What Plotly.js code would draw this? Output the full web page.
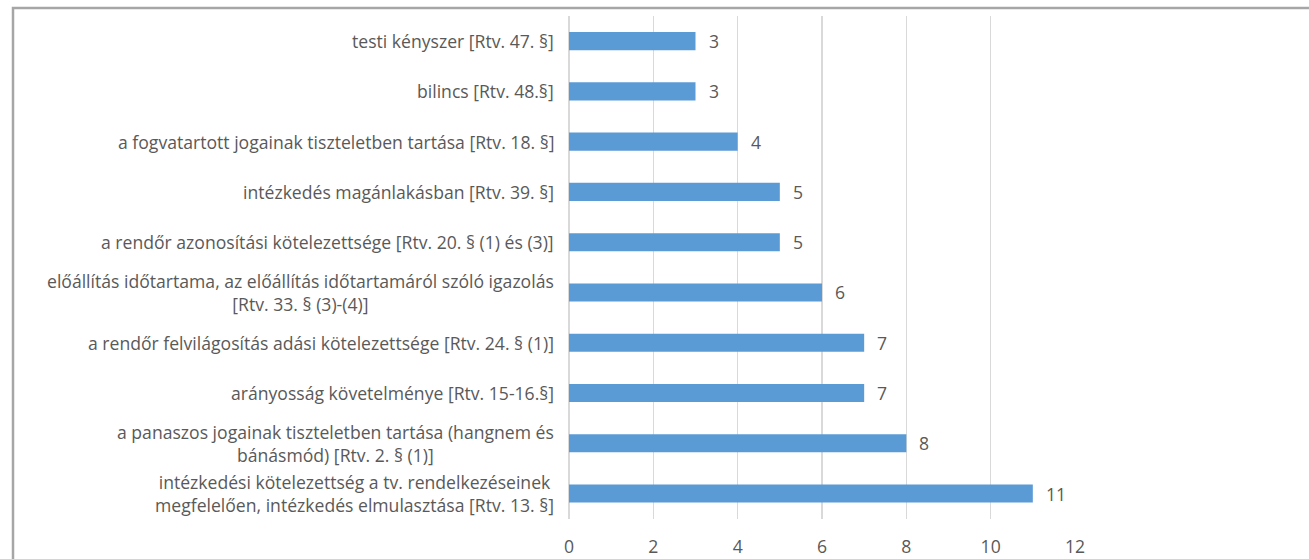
<!DOCTYPE html>
<html><head><meta charset="utf-8">
<script src="https://cdn.plot.ly/plotly-3.0.1.min.js"></script>
<style>html,body{margin:0;padding:0;background:#fff;}#chart{width:1309px;height:559px;}</style>
</head><body><div id="chart"></div>
<script>
const categories = [
  "testi kényszer [Rtv. 47. §]",
  "bilincs [Rtv. 48.§]",
  "a fogvatartott jogainak tiszteletben tartása [Rtv. 18. §]",
  "intézkedés magánlakásban [Rtv. 39. §]",
  "a rendőr azonosítási kötelezettsége [Rtv. 20. § (1) és (3)]",
  "előállítás időtartama, az előállítás időtartamáról szóló igazolás<br>[Rtv. 33. § (3)-(4)]",
  "a rendőr felvilágosítás adási kötelezettsége [Rtv. 24. § (1)]",
  "arányosság követelménye [Rtv. 15-16.§]",
  "a panaszos jogainak tiszteletben tartása (hangnem és<br>bánásmód) [Rtv. 2. § (1)]",
  "intézkedési kötelezettség a tv. rendelkezéseinek<br>megfelelően, intézkedés elmulasztása [Rtv. 13. §]"
];
const values = [3, 3, 4, 5, 5, 6, 7, 7, 8, 11];
const xTicks = [0, 2, 4, 6, 8, 10, 12];

const FONT = "'Open Sans', sans-serif";
const FS = 17.6;
const TXT = "#595959";
const W = 1309, H = 559, ML = 569, MR = 234, MT = 16, MB = 40;
const PW = W - ML - MR, PH = H - MT - MB;

const annotations = [];
categories.forEach((c, i) => {
  annotations.push({
    x: 0, xref: 'paper', xanchor: 'right', xshift: -13,
    y: c, yref: 'y', yanchor: 'middle',
    text: c, showarrow: false, align: 'center',
    font: {family: FONT, size: FS, color: TXT}
  });
  annotations.push({
    x: values[i], xref: 'x', xanchor: 'left', xshift: 11,
    y: c, yref: 'y', yanchor: 'middle',
    text: String(values[i]), showarrow: false,
    font: {family: FONT, size: FS, color: TXT}
  });
});

const data = [{
  type: 'bar', orientation: 'h',
  x: values, y: categories,
  width: 0.36,
  marker: {color: '#5B9BD5'},
  hoverinfo: 'none'
}];

const layout = {
  width: W, height: H,
  margin: {l: ML, r: MR, t: MT, b: MB, pad: 0},
  paper_bgcolor: '#fff', plot_bgcolor: '#fff',
  showlegend: false,
  font: {family: FONT, size: FS, color: TXT},
  xaxis: {
    range: [0, 12], tickvals: xTicks, ticktext: xTicks.map(String),
    showgrid: true, gridcolor: '#d9d9d9', gridwidth: 1.5,
    zeroline: true, zerolinecolor: '#d9d9d9', zerolinewidth: 1.5,
    showline: false, ticks: '', ticklabelstandoff: 15,
    tickfont: {family: FONT, size: FS, color: TXT}, fixedrange: true
  },
  yaxis: {
    type: 'category', autorange: 'reversed',
    showticklabels: false, showgrid: false, zeroline: false, ticks: '',
    fixedrange: true
  },
  annotations: annotations,
  shapes: [{
    type: 'rect', xref: 'paper', yref: 'paper',
    x0: (13 - ML) / PW, x1: 1.6,
    y0: -0.3, y1: 1 + (MT - 8) / PH,
    line: {color: '#a6a6a6', width: 2.5}, fillcolor: 'rgba(0,0,0,0)', layer: 'above'
  }]
};

Plotly.newPlot('chart', data, layout, {displayModeBar: false, staticPlot: true});
</script></body></html>
